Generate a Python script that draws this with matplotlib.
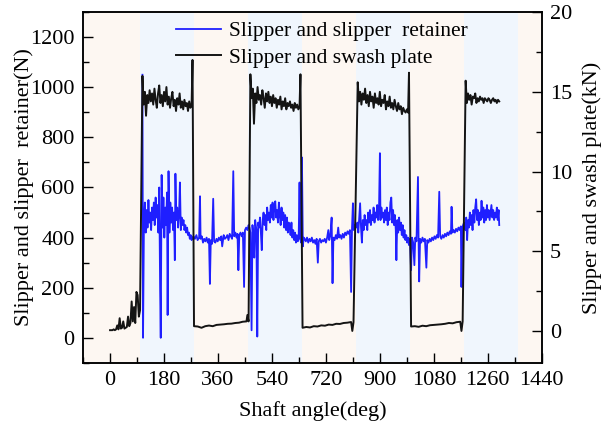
import numpy as np
import matplotlib
matplotlib.use("Agg")
import matplotlib.pyplot as plt
from matplotlib.ticker import MultipleLocator

plt.rcParams['font.family'] = ['Liberation Serif', 'DejaVu Serif']
plt.rcParams['mathtext.fontset'] = 'stix'

# ---- data ----
# slipper / swash plate force (kN, right axis), (angle deg, value) pairs per phase
black_start = [(0, 0.05), (4, 0.05), (8, 0.05), (12, 0.1), (16, 0.05), (20, 0.1), (24, 0.35),
               (28, 0.1), (32, 0.8), (36, 0.15), (40, 0.2), (44, 0.6), (48, 0.15), (52, 0.2),
               (56, 0.25), (60, 0.9), (64, 0.3), (68, 0.5), (72, 1.85), (76, 0.6), (80, 1.5),
               (84, 0.5), (88, 2.45), (92, 2.25), (96, 0.9), (100, 1.3)]
black_high1 = [16.0, 14.2, 15.0, 13.5, 14.8, 14.3, 15.1, 14.4, 14.9, 14.2, 15.2, 14.5, 14.0, 14.9,
               15.4, 14.3, 14.8, 14.1, 15.0, 14.4, 15.3, 14.2, 14.7, 14.0, 14.6, 15.0, 14.1, 14.5,
               13.8, 14.6, 14.2, 14.9, 14.0, 14.4, 13.9, 14.5, 14.1, 14.3, 13.8, 14.4, 14.0, 14.2]
black_low1 = [0.3, 0.28, 0.2, 0.3, 0.34, 0.3, 0.38, 0.4, 0.42, 0.45, 0.46, 0.5, 0.52, 0.58, 0.6]
black_high2 = [16.1, 14.6, 15.2, 13.0, 14.9, 14.3, 15.3, 14.5, 14.8, 14.2, 15.1, 14.6, 14.0, 14.9,
               14.4, 15.0, 14.3, 14.7, 14.1, 14.8, 14.3, 14.6, 14.0, 14.5, 14.2, 14.7, 13.9, 14.4,
               14.1, 14.6, 13.9, 14.3, 14.1, 14.4, 14.0, 14.2, 13.8, 14.3, 14.0, 14.2, 13.9, 14.1]
black_low2 = [0.2, 0.25, 0.22, 0.3, 0.28, 0.35, 0.33, 0.4, 0.38, 0.45, 0.44, 0.5, 0.52, 0.56]
black_high3 = [15.6, 14.4, 15.0, 14.2, 14.9, 14.5, 15.2, 14.3, 14.8, 14.1, 15.0, 14.4, 14.7, 14.0,
               14.9, 14.3, 14.6, 14.2, 15.0, 14.1, 14.5, 14.3, 14.8, 13.9, 14.4, 14.1, 14.7, 14.0,
               14.3, 13.9, 14.5, 14.1, 13.8, 14.3, 13.9, 14.1, 13.6, 14.0, 13.8, 13.7, 13.9, 13.7]
black_low3 = [0.28, 0.3, 0.26, 0.33, 0.3, 0.36, 0.38, 0.4, 0.42, 0.45, 0.5, 0.48, 0.55, 0.58]
black_high4 = [15.7, 14.3, 14.9, 14.5, 14.8, 14.2, 14.7, 14.6, 14.9, 14.3, 14.6, 14.4, 14.7, 14.5,
               14.6, 14.3, 14.6, 14.5, 14.4, 14.6, 14.5, 14.3, 14.5, 14.6, 14.4, 14.5, 14.3, 14.5, 14.4]
# edge spikes between phases
black_edges = [(275, 17.0), (458, 1.0), (462, 0.6), (635, 16.1), (808, 0.0), (812, 0.55),
               (997, 16.2), (1172, 0.0), (1176, 0.6)]

# slipper / retainer force (N, left axis), (angle deg, value) pairs
blue_high1 = [(108, 1050), (110, 0), (113, 460), (116, 540), (119, 420), (122, 510), (125, 440),
              (128, 550), (131, 460), (134, 500), (137, 430), (140, 520), (143, 470), (146, 540),
              (149, 450), (152, 560), (155, 480), (158, 530), (161, 420), (164, 600), (167, 190),
              (169, 0), (172, 650), (175, 440), (178, 560), (181, 400), (184, 520), (187, 450),
              (190, 580), (192, 91), (195, 665), (198, 420), (201, 540), (204, 460), (207, 520),
              (210, 430), (213, 500), (216, 310), (218, 655), (221, 470), (224, 520), (227, 440),
              (230, 490), (233, 620), (236, 430), (239, 480), (242, 450), (245, 470), (248, 430),
              (251, 450), (254, 420), (257, 440), (260, 410), (263, 420), (266, 395), (269, 410),
              (272, 390), (275, 400)]
blue_low1 = [(278, 405), (283, 395), (288, 410), (292, 390), (297, 400), (300, 565), (302, 395),
             (306, 405), (310, 380), (314, 395), (318, 385), (322, 400), (326, 380), (330, 395),
             (333, 215), (336, 390), (340, 375), (344, 555), (347, 385), (351, 380), (355, 395),
             (359, 385), (363, 400), (367, 390), (371, 405), (374, 365), (379, 410), (383, 395),
             (387, 400), (391, 410), (395, 390), (399, 415), (403, 405), (407, 395), (411, 665),
             (414, 405), (418, 420), (422, 400), (425, 415), (428, 270), (431, 410), (435, 420),
             (439, 405), (443, 420), (447, 203), (450, 430), (454, 440), (458, 430), (462, 450)]
blue_high2 = [(465, 440), (468, 420), (472, 30), (475, 450), (478, 400), (481, 320), (484, 470),
              (488, 430), (491, 5), (494, 460), (497, 440), (500, 480), (503, 420), (506, 350),
              (509, 470), (512, 500), (515, 450), (518, 490), (521, 430), (524, 520), (527, 470),
              (530, 500), (533, 460), (536, 530), (539, 480), (542, 540), (545, 470), (548, 520),
              (551, 545), (554, 480), (557, 510), (560, 460), (563, 540), (566, 490), (569, 450),
              (572, 520), (575, 470), (578, 500), (581, 440), (584, 490), (587, 430), (590, 480),
              (593, 420), (596, 460), (599, 440), (602, 410), (605, 460), (608, 400), (611, 430),
              (614, 390), (617, 420), (620, 380), (623, 410), (626, 385), (629, 395), (632, 620),
              (634, 400), (637, 380), (640, 720), (643, 365), (646, 400)]
blue_low2 = [(649, 395), (653, 385), (657, 400), (661, 380), (665, 395), (669, 385), (673, 400),
             (677, 380), (681, 390), (685, 375), (689, 395), (693, 300), (696, 385), (700, 395),
             (704, 380), (708, 390), (712, 385), (716, 395), (720, 380), (724, 400), (728, 430),
             (731, 390), (735, 410), (739, 480), (742, 218), (745, 400), (749, 390), (753, 410),
             (757, 395), (761, 440), (764, 400), (768, 410), (772, 395), (776, 415), (780, 400),
             (784, 420), (788, 410), (792, 425), (796, 415), (800, 430), (804, 183), (807, 440),
             (810, 537), (813, 430), (817, 450), (821, 440)]
blue_high3 = [(825, 460), (828, 420), (831, 480), (834, 537), (837, 440), (840, 380), (843, 470),
              (846, 430), (849, 490), (852, 450), (855, 470), (858, 430), (861, 500), (864, 460),
              (867, 510), (870, 450), (873, 490), (876, 470), (879, 520), (882, 460), (885, 500),
              (888, 480), (891, 530), (894, 470), (897, 510), (900, 737), (902, 470), (905, 520),
              (908, 480), (911, 500), (914, 460), (917, 510), (920, 470), (923, 520), (926, 450),
              (929, 500), (932, 470), (935, 540), (938, 560), (941, 460), (944, 510), (947, 450),
              (950, 490), (953, 430), (955, 310), (958, 470), (961, 420), (964, 480), (967, 430),
              (970, 460), (973, 410), (976, 450), (979, 400), (982, 430), (985, 390), (988, 410),
              (991, 380), (994, 400), (997, 370)]
blue_low3 = [(1000, 395), (1004, 270), (1007, 400), (1011, 380), (1015, 290), (1018, 400),
             (1022, 385), (1027, 642), (1029, 390), (1031, 225), (1034, 395), (1038, 380),
             (1042, 400), (1046, 385), (1050, 395), (1055, 280), (1058, 390), (1062, 380),
             (1066, 395), (1070, 385), (1074, 400), (1078, 390), (1082, 405), (1086, 395),
             (1090, 410), (1094, 400), (1098, 583), (1101, 405), (1105, 395), (1109, 410),
             (1113, 400), (1117, 415), (1121, 405), (1125, 420), (1129, 410), (1133, 425),
             (1137, 415), (1139, 523), (1142, 420), (1146, 430), (1150, 420), (1154, 435),
             (1158, 425), (1162, 440), (1166, 430), (1170, 445), (1172, 203), (1175, 440),
             (1179, 455)]
blue_high4 = [(1182, 460), (1185, 430), (1188, 480), (1191, 390), (1194, 470), (1197, 440),
              (1200, 500), (1203, 450), (1206, 490), (1209, 430), (1212, 510), (1215, 460),
              (1218, 520), (1221, 553), (1224, 470), (1227, 510), (1230, 450), (1233, 500),
              (1236, 470), (1239, 547), (1242, 480), (1245, 520), (1248, 460), (1251, 510),
              (1254, 470), (1257, 530), (1260, 480), (1263, 510), (1266, 470), (1269, 500),
              (1272, 530), (1275, 480), (1278, 510), (1281, 470), (1284, 500), (1287, 480),
              (1290, 520), (1293, 470), (1296, 510), (1298, 450)]

# shaded bands (deg)
blue_bands = [(100, 280), (460, 640), (820, 1000), (1180, 1360)]

# ---- assemble series ----
black_pts = list(black_start) + list(black_edges)
for (a0, a1), vals in [((108, 272), black_high1), ((280, 455), black_low1),
                       ((468, 632), black_high2), ((642, 804), black_low2),
                       ((826, 994), black_high3), ((1004, 1168), black_low3),
                       ((1186, 1298), black_high4)]:
    black_pts += list(zip(np.linspace(a0, a1, len(vals)), vals))
black_pts.sort()
black_x = [p[0] for p in black_pts]
black_y = [p[1] for p in black_pts]

blue_pts = blue_high1 + blue_low1 + blue_high2 + blue_low2 + blue_high3 + blue_low3 + blue_high4
blue_x = [p[0] for p in blue_pts]
blue_y = [p[1] for p in blue_pts]

# ---- plot ----
fig = plt.figure(figsize=(6.02, 4.33), dpi=100)
ax = fig.add_axes([0.138, 0.162, 0.762, 0.810])
ax2 = ax.twinx()

ax.axvspan(-90, 1440, color='#fdf7f2', lw=0, zorder=0)
for b0, b1 in blue_bands:
    ax.axvspan(b0, b1, color='#f0f6fd', lw=0, zorder=0.5)

l1, = ax.plot(blue_x, blue_y, color='#1f1fff', lw=1.3, zorder=2)
l2, = ax2.plot(black_x, black_y, color='#141414', lw=1.4)

ax.set_xlim(-90, 1440)
ax.set_ylim(-100, 1300)
ax2.set_ylim(-2, 20)

ax.xaxis.set_major_locator(MultipleLocator(180))
ax.xaxis.set_minor_locator(MultipleLocator(90))
ax.yaxis.set_major_locator(MultipleLocator(200))
ax.yaxis.set_minor_locator(MultipleLocator(100))
ax2.yaxis.set_major_locator(MultipleLocator(5))
ax2.yaxis.set_minor_locator(MultipleLocator(2.5))

fs = 16
for a in (ax, ax2):
    a.tick_params(which='major', direction='in', length=7, width=1, labelsize=fs, pad=6)
    a.tick_params(which='minor', direction='in', length=4, width=1)
    for s in a.spines.values():
        s.set_linewidth(1.1)
ax.tick_params(top=False, which='both')
ax2.tick_params(top=False, which='both')

ax.set_xlabel('Shaft angle(deg)', fontsize=fs, labelpad=8)
ax.set_ylabel('Slipper and slipper  retainer(N)', fontsize=fs, labelpad=-3)
ax2.set_ylabel('Slipper and swash plate(kN)', fontsize=fs, labelpad=7)

leg = ax2.legend([l1, l2], ['Slipper and slipper  retainer', 'Slipper and swash plate'],
                 loc='upper left', bbox_to_anchor=(0.16, 1.03), frameon=False, fontsize=15.5,
                 handlelength=2.1, handletextpad=0.35, labelspacing=0.3)

fig.savefig('out.png', dpi=100)
